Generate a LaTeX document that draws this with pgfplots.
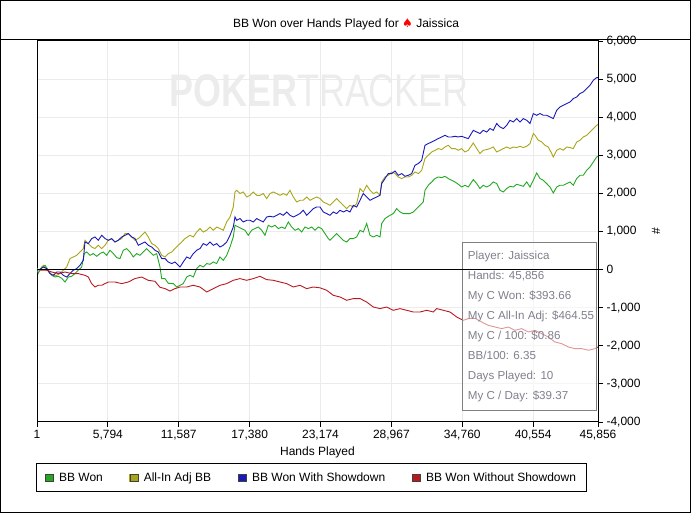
\documentclass[border=0pt]{standalone}
\usepackage{fontspec}
\setmainfont{Liberation Sans}
\newfontfamily\dejavu{DejaVu Sans}
\usepackage{pgfplots}
\pgfplotsset{compat=1.18}
\definecolor{cgreen}{RGB}{34,168,34}
\definecolor{cyellow}{RGB}{168,165,25}
\definecolor{cblue}{RGB}{25,25,185}
\definecolor{cred}{RGB}{185,25,30}
\definecolor{cgrid}{RGB}{235,235,235}
\definecolor{cwm}{RGB}{236,236,236}
\definecolor{cstat}{RGB}{128,128,142}
\definecolor{cbox}{RGB}{128,128,128}
\begin{document}
\begin{tikzpicture}[x=1pt,y=1pt]
\useasboundingbox (0,0) rectangle (691,513);
\node[anchor=base west, xscale=0.787, text=cwm, font=\fontsize{45.7}{50}\selectfont, inner sep=0pt] at (169,406.3) {\textbf{POKER}TRACKER};
\begin{axis}[
  at={(37pt,91pt)}, anchor=south west,
  width=561pt, height=381pt, scale only axis,
  xmin=1, xmax=45856, ymin=-4000, ymax=6000,
  axis line style={line width=1pt},
  scaled x ticks=false, scaled y ticks=false,
  xtick={1,5794,11587,17380,23174,28967,34760,40554,45856},
  xticklabels={1,{5,794},{11,587},{17,380},{23,174},{28,967},{34,760},{40,554},{45,856}},
  ytick={-4000,-3000,-2000,-1000,0,1000,2000,3000,4000,5000,6000},
  yticklabels={{-4,000},{-3,000},{-2,000},{-1,000},0,{1,000},{2,000},{3,000},{4,000},{5,000},{6,000}},
  xtick pos=bottom, ytick pos=right,
  yticklabel pos=right,
  tick align=outside,
  major tick length=5pt,
  tick style={black, line width=0.8pt},
  grid=major, grid style={cgrid, line width=1pt},
  ticklabel style={font=\fontsize{12}{14}\selectfont},
  xlabel={Hands Played},
  xlabel style={font=\fontsize{12}{14}\selectfont, at={(axis description cs:0.5,-0.079)}, anchor=center},
  ylabel={\#},
  ylabel style={font=\fontsize{12}{14}\selectfont, at={(axis description cs:1.1034,0.5)}, anchor=center},
  legend columns=4,
  legend cell align=left,
  legend style={at={(axis description cs:-0.0014,-0.1084)}, anchor=north west, draw=black, line width=1pt, inner xsep=8pt, inner ysep=7pt, font=\fontsize{12}{14}\selectfont, /tikz/every odd column/.append style={column sep=3.5pt}, /tikz/every even column/.append style={column sep=24.5pt}},
  legend image code/.code={\fill[#1] (0pt,-3.5pt) rectangle (8pt,3.5pt); \draw[black!75, line width=0.6pt] (0pt,-3.5pt) rectangle (8pt,3.5pt);},
  every axis plot/.append style={line width=0.9pt},
]
\addplot[cgreen] coordinates {(1,0) (106,-97) (384,68) (654,113) (924,-18) (1202,-150) (1471,-194) (1741,-176) (2019,-228) (2289,-326) (2558,-194) (2836,-176) (3106,-105) (3376,-18) (3654,68) (3866,420) (4062,462) (4332,375) (4602,420) (4880,349) (5150,420) (5419,462) (5697,375) (5967,507) (6237,420) (6515,315) (6784,289) (7054,507) (7332,551) (7602,462) (7871,331) (8149,420) (8419,375) (8689,462) (8967,551) (9236,462) (9506,375) (9784,420) (10054,68) (10193,-236) (10463,-236) (10732,-360) (11141,-368) (11419,-457) (11689,-412) (11958,-368) (12236,-194) (12506,-150) (12776,-194) (13054,26) (13324,113) (13593,68) (13871,158) (14141,139) (14411,200) (14689,158) (14958,331) (15228,244) (15506,375) (15776,593) (16045,856) (16184,1163) (16454,1118) (16732,1076) (17002,1032) (17271,900) (17549,1032) (17819,1076) (18089,1118) (18367,1032) (18636,900) (18906,1163) (19184,1118) (19454,1163) (19724,1076) (20002,1118) (20271,1076) (20541,1250) (20819,1118) (21089,1032) (21358,1076) (21636,987) (21906,1118) (22176,1076) (22454,1118) (22723,1032) (22993,1118) (23271,1076) (23541,945) (23810,814) (23949,769) (24219,856) (24497,945) (24767,856) (25037,769) (25315,725) (25584,814) (25854,814) (26132,856) (26402,1032) (26671,987) (26949,1208) (27219,900) (27489,856) (27767,900) (28036,856) (28175,1208) (28445,1339) (28854,1425) (29124,1470) (29402,1601) (29671,1512) (29941,1470) (30219,1470) (30489,1470) (30758,1512) (31036,1601) (31306,1688) (31576,1775) (31715,2082) (31984,2213) (32262,2300) (32532,2389) (32802,2431) (33080,2415) (33350,2449) (33619,2389) (33897,2344) (34167,2300) (34437,2239) (34715,2168) (34984,2213) (35254,2168) (35663,2363) (35941,2258) (36211,2126) (36480,2213) (36758,2168) (37028,2213) (37298,2300) (37576,2258) (37846,2082) (38115,2037) (38393,2126) (38663,2186) (38933,2168) (39211,2239) (39480,2213) (39750,2186) (40028,2300) (40298,2168) (40567,2344) (40845,2536) (41115,2389) (41385,2344) (41663,2258) (41932,2168) (42202,2011) (42480,2168) (42750,2213) (43019,2213) (43297,2258) (43567,2300) (43837,2213) (44115,2389) (44384,2475) (44654,2475) (44932,2607) (45201,2693) (45471,2824) (45749,2956) (45856,2974)};
\addlegendentry{BB Won}
\addplot[cyellow] coordinates {(1,26) (246,-18) (516,113) (794,26) (1063,-105) (1333,-150) (1611,-150) (1881,-105) (2150,-18) (2428,68) (2698,289) (2967,331) (3245,375) (3515,462) (3785,551) (3924,769) (4193,683) (4471,593) (4741,551) (5011,638) (5289,551) (5558,638) (5828,769) (6106,814) (6376,725) (6645,769) (6923,814) (7193,945) (7463,945) (7741,856) (8010,769) (8280,814) (8558,900) (8828,987) (9097,856) (9375,683) (9645,638) (9915,551) (10193,375) (10463,331) (10732,420) (11010,462) (11280,551) (11550,638) (11828,725) (12097,814) (12506,900) (12776,856) (13054,987) (13324,1076) (13593,987) (13871,1032) (14141,1118) (14411,1032) (14689,1118) (14958,1076) (15228,1032) (15506,1250) (15776,1381) (16045,1643) (16184,2037) (16323,2082) (16593,1995) (16863,2037) (17141,1906) (17410,1950) (17680,2037) (17958,1950) (18228,1950) (18497,1995) (18775,1864) (19045,1995) (19315,2037) (19593,1995) (19862,1950) (20132,1995) (20410,1950) (20680,2082) (20950,1906) (21228,1775) (21497,1819) (21767,1819) (22045,1906) (22315,1819) (22584,1864) (22862,1906) (23132,1864) (23402,1775) (23680,1733) (23949,1688) (24219,1775) (24497,1864) (24767,1775) (25037,1688) (25315,1601) (25584,1688) (25854,1643) (26132,1733) (26402,2126) (26671,2037) (26949,2213) (27219,2082) (27489,1995) (27767,2037) (28036,1950) (28175,2300) (28445,2431) (28715,2475) (28993,2562) (29263,2520) (29532,2431) (29810,2389) (30080,2431) (30350,2431) (30628,2475) (30897,2562) (31167,2520) (31445,2607) (31715,2914) (31984,3000) (32262,3087) (32532,3132) (32802,3176) (33080,3150) (33350,3218) (33619,3263) (33897,3176) (34167,3176) (34437,3132) (34715,3176) (34984,3087) (35254,3132) (35663,3323) (35941,3176) (36211,3045) (36480,3132) (36758,3150) (37028,3176) (37298,3218) (37576,3087) (37846,3132) (38115,3176) (38393,3218) (38663,3176) (38933,3218) (39211,3203) (39480,3237) (39750,3203) (40028,3237) (40298,3308) (40567,3570) (40706,3525) (40976,3394) (41254,3350) (41524,3263) (41793,3218) (42071,3045) (42202,2956) (42480,3132) (42750,3176) (43019,3132) (43297,3218) (43567,3203) (43837,3176) (44115,3350) (44384,3394) (44654,3481) (44932,3525) (45201,3612) (45471,3701) (45749,3788) (45856,3806)};
\addlegendentry{All-In Adj BB}
\addplot[cblue] coordinates {(1,-18) (246,8) (516,68) (794,26) (1063,-105) (1333,-150) (1611,-63) (1881,-63) (2150,-150) (2428,-194) (2698,-105) (2967,-18) (3245,26) (3515,113) (3785,244) (3924,725) (4193,683) (4471,814) (4741,856) (5011,769) (5289,900) (5558,814) (5828,769) (6106,814) (6376,725) (6645,769) (6923,856) (7193,900) (7463,945) (7741,856) (8010,814) (8280,638) (8558,683) (8828,725) (9097,638) (9375,593) (9645,507) (9915,462) (10193,289) (10463,289) (10732,200) (11010,158) (11280,200) (11550,113) (11689,68) (11958,200) (12236,331) (12506,289) (12776,420) (13054,507) (13324,551) (13593,683) (13871,638) (14141,725) (14411,638) (14689,683) (14958,593) (15228,638) (15506,725) (15776,900) (16045,1118) (16184,1381) (16323,1294) (16593,1339) (16863,1250) (17141,1294) (17410,1294) (17680,1250) (17958,1339) (18228,1294) (18497,1250) (18775,1381) (19045,1399) (19315,1381) (19593,1425) (19862,1470) (20132,1425) (20410,1512) (20680,1425) (20950,1381) (21228,1425) (21497,1470) (21767,1557) (22045,1425) (22315,1512) (22584,1601) (22862,1643) (23132,1643) (23402,1512) (23680,1470) (23949,1425) (24219,1512) (24497,1470) (24767,1557) (25037,1512) (25315,1557) (25584,1512) (25854,1688) (26132,1643) (26402,1819) (26671,1995) (26949,1906) (27219,1819) (27489,1864) (27767,1906) (28036,1950) (28175,2258) (28445,2389) (28715,2520) (28993,2520) (29263,2588) (29532,2475) (29810,2520) (30080,2449) (30350,2475) (30628,2520) (30897,2738) (31167,2783) (31445,2869) (31715,3263) (31984,3308) (32262,3350) (32532,3394) (32802,3439) (33080,3481) (33350,3525) (33619,3481) (33897,3481) (34167,3499) (34437,3481) (34715,3499) (34984,3465) (35254,3439) (35663,3656) (35941,3612) (36211,3570) (36480,3656) (36758,3612) (37028,3701) (37298,3656) (37576,3833) (37846,3743) (38115,3701) (38393,3788) (38663,3919) (38933,3874) (39211,3964) (39480,3874) (39750,3964) (40028,3919) (40298,3833) (40567,4095) (40845,4050) (41115,4095) (41385,4050) (41663,4050) (41932,4006) (42202,3964) (42480,4181) (42750,4268) (43019,4313) (43297,4358) (43567,4400) (43837,4489) (44115,4531) (44384,4620) (44654,4662) (44932,4751) (45201,4838) (45471,4969) (45749,5040) (45856,5040)};
\addlegendentry{BB Won With Showdown}
\addplot[cred] coordinates {(1,8) (384,-18) (794,-18) (1202,-63) (1741,-105) (2289,-63) (2836,-105) (3376,-105) (3924,-150) (4193,-194) (4471,-368) (4741,-457) (5011,-412) (5289,-412) (5558,-368) (5828,-326) (6376,-326) (6923,-368) (7463,-326) (8010,-236) (8558,-194) (9097,-281) (9645,-307) (10054,-465) (10463,-499) (10871,-562) (11280,-499) (11689,-457) (12236,-457) (12776,-412) (13324,-457) (13871,-588) (14411,-499) (14958,-412) (15506,-368) (16045,-281) (16593,-236) (17141,-281) (17680,-236) (18228,-176) (18775,-263) (19315,-281) (19862,-326) (20410,-368) (20950,-457) (21497,-412) (22045,-499) (22584,-457) (23132,-478) (23680,-543) (24219,-675) (24767,-719) (25315,-806) (25854,-761) (26402,-761) (26949,-851) (27489,-982) (28036,-1024) (28584,-982) (29124,-1068) (29671,-1024) (30219,-1068) (30758,-1113) (31306,-1113) (31854,-1068) (32393,-1113) (32671,-1024) (33211,-1068) (33758,-1113) (34306,-1244) (34846,-1331) (35254,-1286) (35802,-1278) (36350,-1376) (36889,-1463) (37436,-1507) (37984,-1549) (38524,-1507) (39071,-1593) (39619,-1549) (40159,-1638) (40706,-1593) (41254,-1680) (41793,-1769) (42341,-1901) (42889,-1943) (43428,-2032) (43976,-2074) (44523,-2074) (45063,-2118) (45610,-2074) (45856,-2032)};
\addlegendentry{BB Won Without Showdown}
\fill[white, opacity=0.55] (rel axis cs:0.7581,0.0297) rectangle (rel axis cs:0.9977,0.4717);
\draw[cbox, line width=1pt] (rel axis cs:0.7581,0.0297) rectangle (rel axis cs:0.9977,0.4717);
\addplot[black, line width=1pt, forget plot] coordinates {(1,0) (45856,0)};
\begin{scope}[every node/.style={anchor=base west, inner sep=0pt, text=cstat, font=\fontsize{11.6}{13}\selectfont}]
\node at (rel axis cs:0.7677,0.4273) {Player: Jaissica};
\node at (rel axis cs:0.7677,0.3748) {Hands: 45,856};
\node at (rel axis cs:0.7677,0.3223) {My C Won: \$393.66};
\node at (rel axis cs:0.7677,0.2698) {My C All-In Adj: \$464.55};
\node at (rel axis cs:0.7677,0.2173) {My C / 100: \$0.86};
\node at (rel axis cs:0.7677,0.1648) {BB/100: 6.35};
\node at (rel axis cs:0.7677,0.1123) {Days Played: 10};
\node at (rel axis cs:0.7677,0.0598) {My C / Day: \$39.37};
\end{scope}
\end{axis}
\draw[line width=1pt] (0,473) -- (691,473);
\draw[line width=1pt] (0.5,0.5) rectangle (690.5,512.5);
\node[anchor=base, inner sep=0pt, font=\fontsize{12}{14}\selectfont] at (346,485) {BB Won over Hands Played for {\dejavu\color{red}♠} Jaissica};
\end{tikzpicture}
\end{document}
